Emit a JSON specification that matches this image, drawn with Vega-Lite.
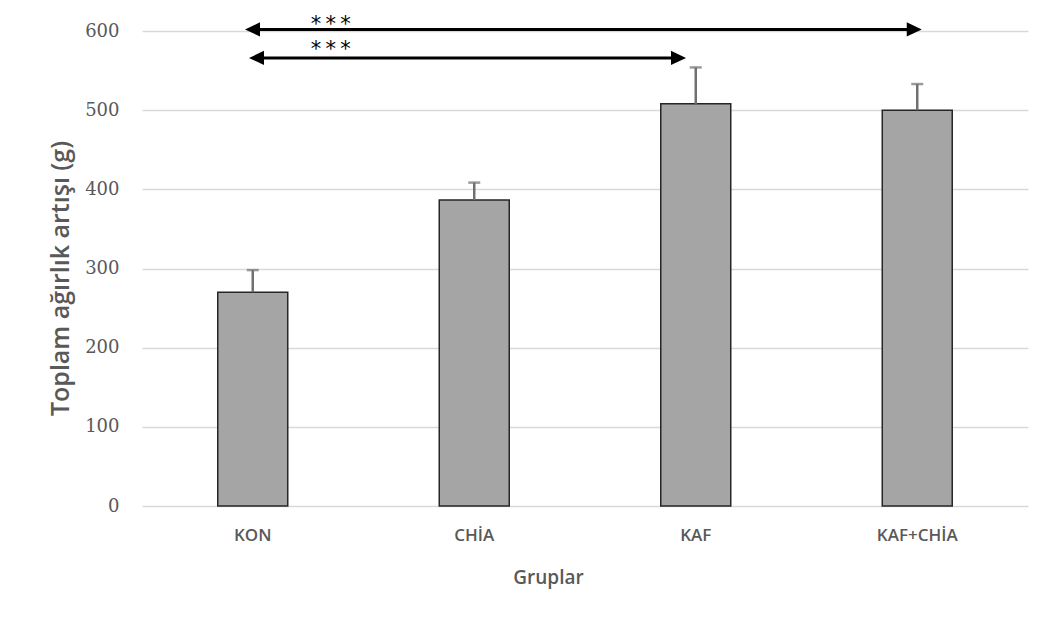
{
  "$schema": "https://vega.github.io/schema/vega-lite/v6.json",
  "autosize": {"type": "none"},
  "width": 886,
  "height": 475,
  "padding": {"left": 142, "top": 31, "right": 25, "bottom": 119},
  "background": "white",
  "config": {
    "view": {"stroke": null},
    "axis": {"labelColor": "#595959", "titleColor": "#595959", "gridColor": "#d9d9d9", "gridWidth": 1.5}
  },
  "datasets": {
    "groups": [
      {"grup": "KON", "artis": 270, "sh": 28},
      {"grup": "CHİA", "artis": 386.5, "sh": 22},
      {"grup": "KAF", "artis": 508, "sh": 46},
      {"grup": "KAF+CHİA", "artis": 500, "sh": 33}
    ],
    "arrows": [
      {"id": 1, "from": "KON", "to": "KAF+CHİA", "y": 602, "star": "*\u2009*\u2009*", "ystar": 608.1},
      {"id": 2, "from": "KON", "to": "KAF", "y": 566, "star": "*\u2009*\u2009*", "ystar": 576.5}
    ]
  },
  "layer": [
    {
      "data": {"name": "groups"},
      "mark": {"type": "bar", "width": {"band": 0.316}, "fill": "#a5a5a5", "stroke": "#262626", "strokeWidth": 1.5},
      "encoding": {
        "x": {
          "field": "grup", "type": "nominal", "sort": null,
          "scale": {"paddingInner": 0, "paddingOuter": 0},
          "axis": {
            "title": "Gruplar", "labelAngle": 0, "ticks": false, "domain": false,
            "labelFont": "Open Sans", "labelFontSize": 17, "labelFontWeight": 600, "labelPadding": 21,
            "titleFont": "Open Sans", "titleFontSize": 19, "titleFontWeight": 600,
            "titleX": 406, "titleY": 77, "titleBaseline": "alphabetic", "titleAlign": "center"
          }
        },
        "y": {
          "field": "artis", "type": "quantitative",
          "scale": {"domain": [0, 600], "nice": false},
          "axis": {
            "title": "Toplam ağırlık artışı (g)", "values": [0, 100, 200, 300, 400, 500, 600],
            "ticks": false, "domain": false,
            "labelFont": "DejaVu Serif", "labelFontSize": 18, "labelPadding": 23,
            "titleFont": "Open Sans", "titleFontSize": 25, "titleFontWeight": 600,
            "titleX": -74, "titleY": 247, "titleAngle": -90, "titleBaseline": "alphabetic", "titleAlign": "center"
          }
        }
      }
    },
    {
      "data": {"name": "groups"},
      "transform": [{"calculate": "datum.artis + datum.sh", "as": "ust"}],
      "mark": {"type": "rule", "color": "#707070", "strokeWidth": 2.5},
      "encoding": {
        "x": {"field": "grup", "type": "nominal", "sort": null},
        "y": {"field": "artis", "type": "quantitative"},
        "y2": {"field": "ust"}
      }
    },
    {
      "data": {"name": "groups"},
      "transform": [{"calculate": "datum.artis + datum.sh", "as": "ust"}],
      "mark": {"type": "tick", "color": "#707070", "size": 12, "thickness": 2.5, "orient": "horizontal"},
      "encoding": {
        "x": {"field": "grup", "type": "nominal", "sort": null},
        "y": {"field": "ust", "type": "quantitative"}
      }
    },
    {
      "data": {"name": "arrows"},
      "transform": [{"filter": "datum.id == 1"}],
      "mark": {"type": "rule", "color": "black", "strokeWidth": 3, "xOffset": 0, "x2Offset": -3.5},
      "encoding": {
        "x": {"field": "from", "type": "nominal", "sort": null},
        "x2": {"field": "to"},
        "y": {"field": "y", "type": "quantitative"}
      }
    },
    {
      "data": {"name": "arrows"},
      "transform": [{"filter": "datum.id == 2"}],
      "mark": {"type": "rule", "color": "black", "strokeWidth": 3, "xOffset": 4, "x2Offset": -18},
      "encoding": {
        "x": {"field": "from", "type": "nominal", "sort": null},
        "x2": {"field": "to"},
        "y": {"field": "y", "type": "quantitative"}
      }
    },
    {
      "data": {"name": "arrows"},
      "transform": [{"filter": "datum.id == 1"}],
      "mark": {"type": "point", "shape": "M0,0L1,-0.47L1,0.47Z", "size": 900, "filled": true, "fill": "black", "opacity": 1, "strokeWidth": 0, "xOffset": -7.75},
      "encoding": {
        "x": {"field": "from", "type": "nominal", "sort": null},
        "y": {"field": "y", "type": "quantitative"}
      }
    },
    {
      "data": {"name": "arrows"},
      "transform": [{"filter": "datum.id == 2"}],
      "mark": {"type": "point", "shape": "M0,0L1,-0.47L1,0.47Z", "size": 900, "filled": true, "fill": "black", "opacity": 1, "strokeWidth": 0, "xOffset": -3.75},
      "encoding": {
        "x": {"field": "from", "type": "nominal", "sort": null},
        "y": {"field": "y", "type": "quantitative"}
      }
    },
    {
      "data": {"name": "arrows"},
      "transform": [{"filter": "datum.id == 1"}],
      "mark": {"type": "point", "shape": "M0,0L-1,-0.47L-1,0.47Z", "size": 900, "filled": true, "fill": "black", "opacity": 1, "strokeWidth": 0, "xOffset": 4.5},
      "encoding": {
        "x": {"field": "to", "type": "nominal", "sort": null},
        "y": {"field": "y", "type": "quantitative"}
      }
    },
    {
      "data": {"name": "arrows"},
      "transform": [{"filter": "datum.id == 2"}],
      "mark": {"type": "point", "shape": "M0,0L-1,-0.47L-1,0.47Z", "size": 900, "filled": true, "fill": "black", "opacity": 1, "strokeWidth": 0, "xOffset": -9.75},
      "encoding": {
        "x": {"field": "to", "type": "nominal", "sort": null},
        "y": {"field": "y", "type": "quantitative"}
      }
    },
    {
      "data": {"name": "arrows"},
      "mark": {"type": "text", "font": "DejaVu Sans", "fontSize": 21, "color": "black", "align": "center", "baseline": "middle", "dx": 78},
      "encoding": {
        "x": {"field": "from", "type": "nominal", "sort": null},
        "y": {"field": "ystar", "type": "quantitative"},
        "text": {"field": "star"}
      }
    }
  ]
}
